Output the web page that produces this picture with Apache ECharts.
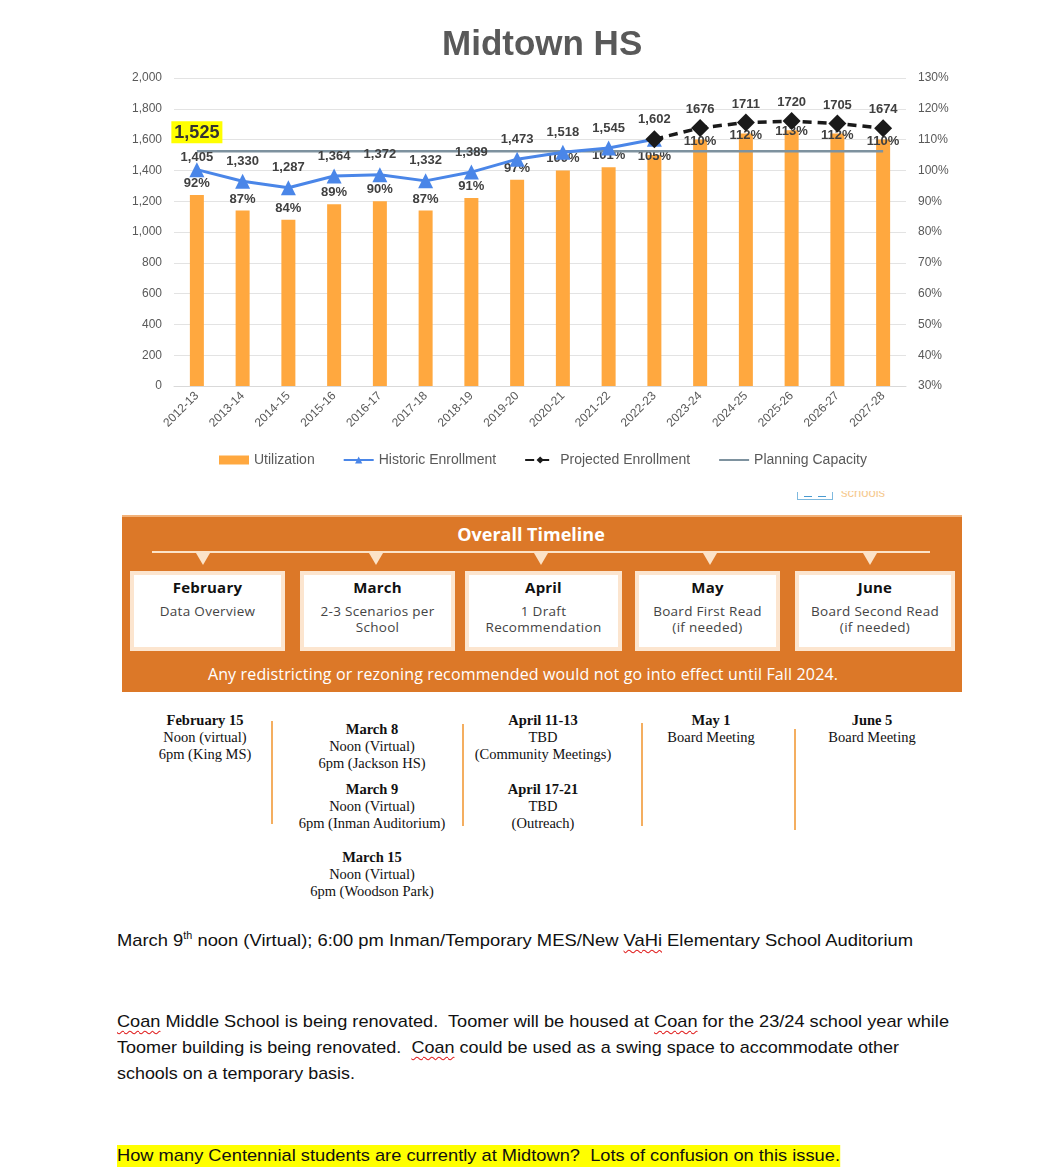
<!DOCTYPE html>
<html>
<head>
<meta charset="utf-8">
<script src="https://cdn.jsdelivr.net/npm/echarts@6/dist/echarts.min.js"></script>
<style>
  html, body { margin:0; padding:0; background:#fff; }
  body { width:1041px; height:1170px; position:relative; overflow:hidden; font-family:'Liberation Sans', Arial, sans-serif; }
  #chart { position:absolute; left:0; top:0; width:1041px; height:480px; }
  .abs { position:absolute; }
  #tl { position:absolute; left:122px; top:515px; width:840px; height:177px; background:#DC7828; border-top:2px solid #F2B27A; box-sizing:border-box; font-family:'Open Sans', 'Noto Sans', sans-serif; }
  #tl .ttl { position:absolute; left:-11px; width:840px; top:5px; text-align:center; color:#fff; font-weight:700; font-size:18px; }
  #tl .hline { position:absolute; left:30px; width:778px; top:34px; height:2px; background:#FCE3C8; }
  #tl .tri { position:absolute; top:36px; width:0; height:0; border-left:7px solid transparent; border-right:7px solid transparent; border-top:12px solid #FCE3C8; }
  #tl .box { position:absolute; top:54px; height:80px; background:#fff; border:4px solid #FCE5CF; box-sizing:border-box; text-align:center; }
  #tl .box .m { font-weight:700; font-size:15px; color:#111; margin-top:2px; line-height:20px; letter-spacing:0.2px; }
  #tl .box .s { font-size:13.5px; color:#444; line-height:16px; margin-top:6px; letter-spacing:0.3px; }
  #tl .foot { position:absolute; left:-19px; width:840px; top:146px; text-align:center; color:#fff; font-size:16px; letter-spacing:0.15px; }
  .sch { position:absolute; font-family:'Liberation Serif', 'Times New Roman', serif; font-size:14.5px; line-height:17px; color:#111; text-align:center; white-space:nowrap; }
  .sch b { font-weight:700; }
  .vl { position:absolute; width:1.5px; background:#F4AE60; }
  .doc { position:absolute; left:117px; font-family:'Liberation Sans', Arial, sans-serif; font-size:17px; color:#111; white-space:nowrap; transform-origin:0 50%; line-height:20px; }
  .sq { text-decoration: underline wavy #E02020; text-decoration-thickness:1px; text-underline-offset:3px; }
  .hl { background:#FFFF00; }
</style>
</head>
<body>
<div id="chart"></div>

<!-- small cropped logo fragment -->
<div class="abs" style="left:797px;top:492px;width:36px;height:8px;border:1px solid #7FB9DE;border-top:none;box-sizing:border-box;"></div>
<div class="abs" style="left:804px;top:496px;width:8px;height:1px;background:#4A9AD0;"></div>
<div class="abs" style="left:818px;top:496px;width:8px;height:1px;background:#4A9AD0;"></div>
<div class="abs" style="left:841px;top:491px;width:50px;height:9px;overflow:hidden;"><div style="margin-top:-6px;color:#F6C98E;font-size:13px;font-family:'Liberation Sans';">schools</div></div>

<div id="tl">
  <div class="ttl">Overall Timeline</div>
  <div class="hline"></div>
  <div class="tri" style="left:74px"></div>
  <div class="tri" style="left:247px"></div>
  <div class="tri" style="left:412px"></div>
  <div class="tri" style="left:581px"></div>
  <div class="tri" style="left:741px"></div>
  <div class="box" style="left:8px;width:155px"><div class="m">February</div><div class="s">Data Overview</div></div>
  <div class="box" style="left:178px;width:155px"><div class="m">March</div><div class="s">2-3 Scenarios per<br>School</div></div>
  <div class="box" style="left:343px;width:157px"><div class="m">April</div><div class="s">1 Draft<br>Recommendation</div></div>
  <div class="box" style="left:513px;width:145px"><div class="m">May</div><div class="s">Board First Read<br>(if needed)</div></div>
  <div class="box" style="left:673px;width:160px"><div class="m">June</div><div class="s">Board Second Read<br>(if needed)</div></div>
  <div class="foot">Any redistricting or rezoning recommended would not go into effect until Fall 2024.</div>
</div>

<div class="sch" style="left:105px;width:200px;top:712px"><b>February 15</b><br>Noon (virtual)<br>6pm (King MS)</div>
<div class="sch" style="left:272px;width:200px;top:721px"><b>March 8</b><br>Noon (Virtual)<br>6pm (Jackson HS)</div>
<div class="sch" style="left:272px;width:200px;top:781px"><b>March 9</b><br>Noon (Virtual)<br>6pm (Inman Auditorium)</div>
<div class="sch" style="left:272px;width:200px;top:849px"><b>March 15</b><br>Noon (Virtual)<br>6pm (Woodson Park)</div>
<div class="sch" style="left:443px;width:200px;top:712px"><b>April 11-13</b><br>TBD<br>(Community Meetings)</div>
<div class="sch" style="left:443px;width:200px;top:781px"><b>April 17-21</b><br>TBD<br>(Outreach)</div>
<div class="sch" style="left:611px;width:200px;top:712px"><b>May 1</b><br>Board Meeting</div>
<div class="sch" style="left:772px;width:200px;top:712px"><b>June 5</b><br>Board Meeting</div>
<div class="vl" style="left:271px;top:721px;height:103px"></div>
<div class="vl" style="left:462px;top:724px;height:102px"></div>
<div class="vl" style="left:641px;top:723px;height:103px"></div>
<div class="vl" style="left:794px;top:729px;height:101px"></div>

<div class="doc" data-w="796" style="top:931px">March 9<sup style="font-size:10px;vertical-align:7px;line-height:0">th</sup> noon (Virtual); 6:00 pm Inman/Temporary MES/New <span class="sq">VaHi</span> Elementary School Auditorium</div>
<div class="doc" data-w="832" style="top:1012px"><span class="sq">Coan</span> Middle School is being renovated.&nbsp; Toomer will be housed at <span class="sq">Coan</span> for the 23/24 school year while</div>
<div class="doc" data-w="782" style="top:1038px">Toomer building is being renovated.&nbsp; <span class="sq">Coan</span> could be used as a swing space to accommodate other</div>
<div class="doc" data-w="238" style="top:1064px">schools on a temporary basis.</div>
<div class="doc" data-w="723" style="top:1146px"><span class="hl" style="padding:1px 0 2px 0">How many Centennial students are currently at Midtown?&nbsp; Lots of confusion on this issue.</span></div>

<script>
// ---- data ----
const categories = ['2012-13','2013-14','2014-15','2015-16','2016-17','2017-18','2018-19','2019-20','2020-21','2021-22','2022-23','2023-24','2024-25','2025-26','2026-27','2027-28'];
const utilization = [92, 87, 84, 89, 90, 87, 91, 97, 100, 101, 105, 110, 112, 113, 112, 110];
const historicEnrollment = [1405, 1330, 1287, 1364, 1372, 1332, 1389, 1473, 1518, 1545, 1602, null, null, null, null, null];
const projectedEnrollment = [null, null, null, null, null, null, null, null, null, null, 1602, 1676, 1711, 1720, 1705, 1674];
const planningCapacity = [1525, 1525, 1525, 1525, 1525, 1525, 1525, 1525, 1525, 1525, 1525, 1525, 1525, 1525, 1525, 1525];
const leftTicks = { min: 0, max: 2000, interval: 200 };
const rightTicks = { min: 30, max: 130, interval: 10 };

const fmt = v => Number(v).toLocaleString('en-US');
const labelColor = '#404040';

const chart = echarts.init(document.getElementById('chart'), null, { renderer: 'canvas' });
chart.setOption({
  animation: false,
  textStyle: { fontFamily: 'Liberation Sans, Arial, sans-serif' },
  title: { text: 'Midtown HS', left: 437, top: 23, textStyle: { fontSize: 35, fontWeight: 'bold', color: '#595959' } },
  grid: { left: 174, right: 135, top: 78, bottom: 94 },
  legend: {
    top: 448, left: 214, itemWidth: 30, itemHeight: 9, itemGap: 28,
    textStyle: { fontSize: 14, color: '#595959' },
    data: [
      { name: 'Utilization', icon: 'rect' },
      { name: 'Historic Enrollment' },
      { name: 'Projected Enrollment' },
      { name: 'Planning Capacity' }
    ]
  },
  xAxis: {
    type: 'category', data: categories,
    axisLine: { lineStyle: { color: '#D9D9D9' } },
    axisTick: { show: false },
    axisLabel: { rotate: 45, fontSize: 12, color: '#595959', margin: 8, interval: 0 }
  },
  yAxis: [
    { type: 'value', min: leftTicks.min, max: leftTicks.max, interval: leftTicks.interval,
      axisLabel: { formatter: v => fmt(v), fontSize: 12, color: '#595959', margin: 12 },
      splitLine: { lineStyle: { color: '#E3E3E3', width: 1 } }, axisLine: { show: false }, axisTick: { show: false } },
    { type: 'value', min: rightTicks.min, max: rightTicks.max, interval: rightTicks.interval, position: 'right',
      axisLabel: { formatter: '{value}%', fontSize: 12, color: '#595959', margin: 12 },
      splitLine: { show: false }, axisLine: { show: false }, axisTick: { show: false } }
  ],
  series: [
    {
      name: 'Utilization', type: 'bar', yAxisIndex: 1, barWidth: 14, z: 1,
      itemStyle: { color: '#FFA83F' },
      data: utilization.map((v, i) => ({ value: v, label: { distance: i >= 10 ? -8 : 5 } })),
      label: { show: true, position: 'top', formatter: p => p.value + '%', fontSize: 13, fontWeight: 'bold', color: labelColor }
    },
    {
      name: 'Planning Capacity', type: 'line', yAxisIndex: 0, z: 2,
      symbol: 'circle', symbolSize: 2, showSymbol: true,
      lineStyle: { color: '#7E929F', width: 2.5 }, itemStyle: { color: 'rgba(0,0,0,0)' },
      data: planningCapacity.map((v, i) => i === 0 ? {
        value: v,
        label: { show: true, position: 'top', distance: 7, formatter: p => fmt(p.value), fontSize: 18, fontWeight: 'bold', color: '#333', backgroundColor: '#FFFF00', padding: [3, 3, 1, 3] }
      } : v)
    },
    {
      name: 'Historic Enrollment', type: 'line', yAxisIndex: 0, z: 4,
      symbol: 'triangle', symbolSize: 15, lineStyle: { color: '#4A86E8', width: 3 }, itemStyle: { color: '#4A86E8' },
      data: historicEnrollment.map((v, i) => i === 0 ? { value: v, label: { distance: -2 } } : v),
      label: { show: true, position: 'top', distance: 6, formatter: p => fmt(p.value), fontSize: 13, fontWeight: 'bold', color: labelColor }
    },
    {
      name: 'Projected Enrollment', type: 'line', yAxisIndex: 0, z: 5,
      symbol: 'diamond', symbolSize: 18, lineStyle: { color: '#1A1A1A', width: 3.5, type: [9, 6] }, itemStyle: { color: '#1A1A1A' },
      data: projectedEnrollment.map((v, i) => i === 10 ? { value: v, label: { show: false } } : v),
      label: { show: true, position: 'top', distance: 3, formatter: p => String(p.value), fontSize: 13, fontWeight: 'bold', color: labelColor }
    }
  ]
});

// fit document lines to their reference widths
document.querySelectorAll('.doc').forEach(el => {
  const target = +el.dataset.w;
  const w = el.getBoundingClientRect().width;
  if (w > 0) el.style.transform = 'scaleX(' + (target / w) + ')';
});
</script>
</body>
</html>
